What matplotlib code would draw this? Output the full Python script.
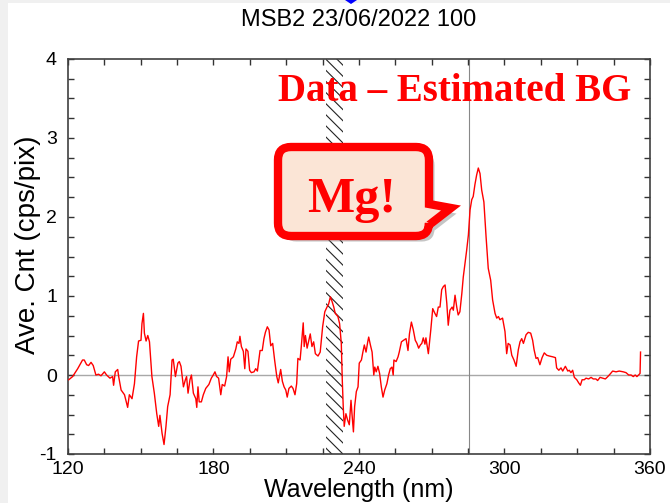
import matplotlib
matplotlib.use('Agg')
import matplotlib.pyplot as plt
import matplotlib.patheffects as pe
from matplotlib.patches import Rectangle, PathPatch, Polygon
from matplotlib.path import Path
from matplotlib.ticker import MultipleLocator

# spectrum (nm, cps/pix)
wavelength = [
    120.3, 121.9, 124.0, 126.0, 126.7, 127.7, 128.5, 129.5, 130.4, 131.5,
    132.6, 133.6, 135.0, 135.9, 137.3, 138.4, 138.8, 139.5, 140.5, 140.9,
    141.9, 143.3, 144.6, 145.3, 146.4, 147.4, 148.3, 149.1, 150.1, 150.5,
    151.1, 151.5, 152.2, 152.9, 153.6, 154.6, 155.6, 156.6, 157.4, 157.9,
    158.8, 159.6, 160.4, 161.1, 162.1, 162.9, 163.4, 164.3, 165.3, 165.9,
    166.6, 167.6, 168.4, 168.9, 169.5, 170.3, 170.9, 171.7, 172.7, 173.1,
    173.6, 174.1, 175.0, 175.8, 176.8, 178.1, 179.1, 179.9, 180.6, 181.3,
    182.1, 183.0, 183.6, 184.6, 185.4, 186.0, 186.5, 187.1, 188.2, 189.2,
    189.8, 190.5, 190.9, 191.5, 192.3, 192.9, 193.4, 194.2, 194.9, 195.6,
    196.7, 197.4, 198.1, 199.2, 200.1, 200.8, 201.4, 202.2, 202.9, 203.6,
    204.4, 205.2, 206.1, 206.7, 207.7, 208.4, 209.1, 209.8, 210.4, 211.1,
    212.1, 212.8, 213.6, 214.3, 214.8, 215.7, 216.2, 217.0, 217.4, 217.9,
    218.6, 219.3, 219.9, 220.6, 221.3, 222.0, 223.1, 224.0, 225.0, 225.9,
    226.8, 227.5, 228.2, 228.9, 229.6, 230.2, 231.3, 232.0, 232.7, 233.1,
    233.5, 233.9, 234.6, 235.3, 236.0, 236.7, 237.1, 237.7, 238.2, 238.9,
    239.6, 240.1, 241.0, 241.6, 242.2, 242.9, 243.6, 244.0, 244.7, 245.4,
    246.1, 246.5, 247.1, 247.8, 248.5, 249.2, 249.9, 250.6, 251.5, 252.2,
    252.9, 253.6, 254.1, 254.4, 255.3, 256.1, 256.6, 257.5, 258.4, 259.4,
    260.2, 260.8, 261.6, 262.4, 263.2, 263.9, 264.6, 265.3, 265.9, 266.5,
    267.2, 267.6, 268.6, 269.6, 270.4, 271.3, 272.0, 272.7, 273.4, 274.1,
    274.8, 275.5, 276.2, 276.8, 277.5, 278.4, 278.9, 279.6, 280.3, 280.9,
    281.6, 282.4, 283.0, 283.7, 284.4, 285.1, 285.8, 286.5, 287.1, 287.8,
    288.5, 289.2, 289.9, 290.6, 291.5, 292.4, 293.3, 294.3, 295.1, 296.1,
    296.8, 297.5, 298.1, 299.2, 300.2, 300.9, 301.5, 302.3, 303.0, 303.9,
    304.8, 305.7, 306.4, 307.1, 307.8, 308.9, 309.8, 310.8, 311.6, 312.2,
    313.0, 313.7, 314.6, 315.5, 316.4, 317.4, 318.5, 319.9, 321.0, 321.5,
    322.4, 323.3, 324.0, 325.1, 326.1, 326.7, 327.4, 328.1, 328.8, 329.8,
    330.6, 331.3, 332.0, 332.9, 333.6, 334.7, 335.7, 336.6, 337.7, 338.4,
    339.4, 340.5, 341.6, 342.6, 343.5, 344.6, 346.0, 347.3, 349.0, 350.1,
    351.2, 352.2, 353.1, 353.9, 354.6, 355.3, 355.9, 356.1,
]
counts = [
    -0.06, -0.02, 0.08, 0.19, 0.19, 0.13, 0.12, 0.16, 0.12, 0.00,
    0.01, -0.01, 0.04, 0.00, -0.04, -0.02, -0.13, 0.04, 0.07, -0.02,
    -0.19, -0.25, -0.41, -0.25, -0.30, -0.11, 0.23, 0.43, 0.44, 0.65,
    0.78, 0.53, 0.43, 0.50, 0.42, -0.02, -0.23, -0.49, -0.65, -0.51,
    -0.74, -0.88, -0.65, -0.40, -0.25, 0.19, 0.20, -0.02, 0.15, 0.17,
    0.11, -0.15, -0.06, -0.02, -0.23, -0.06, 0.00, -0.23, -0.30, -0.41,
    -0.15, -0.34, -0.34, -0.25, -0.17, -0.12, -0.04, 0.00, 0.04, -0.02,
    -0.04, -0.25, -0.12, -0.14, -0.02, 0.23, 0.04, 0.20, 0.23, 0.33,
    0.42, 0.40, 0.49, 0.36, 0.30, 0.08, 0.33, 0.30, 0.06, 0.03,
    0.04, 0.08, 0.05, 0.31, 0.31, 0.46, 0.54, 0.61, 0.57, 0.37,
    0.40, 0.19, -0.02, -0.10, 0.07, -0.08, -0.15, -0.19, -0.28, -0.17,
    -0.14, -0.17, -0.25, -0.11, 0.21, 0.19, 0.36, 0.66, 0.36, 0.50,
    0.34, 0.44, 0.52, 0.36, 0.42, 0.27, 0.24, 0.29, 0.61, 0.80,
    0.86, 0.90, 0.99, 0.93, 0.86, 0.78, 0.74, 0.65, 0.40, -0.06,
    -0.40, -0.65, -0.49, -0.57, -0.63, -0.32, -0.49, -0.72, -0.40, -0.21,
    -0.15, 0.15, 0.19, 0.29, 0.38, 0.29, 0.42, 0.48, 0.38, 0.29,
    0.00, 0.10, 0.04, 0.11, 0.02, -0.15, -0.28, -0.19, -0.11, 0.00,
    0.08, 0.10, 0.00, 0.19, 0.17, 0.23, 0.29, 0.42, 0.44, 0.46,
    0.31, 0.52, 0.67, 0.57, 0.44, 0.40, 0.34, 0.38, 0.40, 0.47,
    0.39, 0.47, 0.27, 0.57, 0.84, 0.78, 0.74, 0.86, 0.86, 1.08,
    1.12, 1.14, 0.91, 0.63, 0.82, 0.86, 0.82, 1.01, 0.86, 0.76,
    0.80, 1.03, 1.24, 1.41, 1.58, 1.77, 2.09, 2.22, 2.26, 2.41,
    2.53, 2.62, 2.55, 2.34, 2.19, 1.75, 1.35, 1.20, 0.95, 0.78,
    0.72, 0.74, 0.70, 0.72, 0.55, 0.27, 0.40, 0.38, 0.25, 0.19,
    0.11, 0.32, 0.42, 0.46, 0.40, 0.51, 0.54, 0.53, 0.44, 0.32,
    0.21, 0.22, 0.13, 0.22, 0.28, 0.25, 0.24, 0.23, 0.22, 0.09,
    0.06, 0.09, 0.05, 0.11, 0.05, 0.06, 0.03, 0.06, -0.03, -0.06,
    -0.10, -0.13, -0.06, -0.06, -0.04, -0.05, -0.03, -0.05, -0.05, -0.07,
    -0.03, -0.04, -0.05, -0.02, 0.01, 0.05, 0.04, 0.05, 0.04, 0.03,
    0.00, 0.00, -0.02, 0.00, -0.02, 0.00, 0.02, 0.29,
]

mg_line = 285.2
excluded = (226.5, 233.5)

W, H = 670, 503
plt.rcParams['font.family'] = ['Liberation Sans', 'DejaVu Sans']
plt.rcParams['hatch.linewidth'] = 0.8
plt.rcParams['axes.unicode_minus'] = False

fig = plt.figure(figsize=(W / 100, H / 100), dpi=100)
fig.patch.set_facecolor('#f0f0f0')
fig.add_artist(Rectangle((8 / W, 0), 1, 1 - 3 / H, transform=fig.transFigure,
                         facecolor='white', edgecolor='none', zorder=-10))

ax = fig.add_axes([68 / W, 1 - 454 / H, 582 / W, 395 / H])
ax.axhline(0, color='#a8a8a8', lw=1, zorder=1)
ax.axvline(mg_line, color='#888888', lw=0.8, zorder=1)
ax.axvspan(*excluded, facecolor='none', edgecolor='#222222', hatch='\\\\\\',
           lw=0, zorder=2)
ax.plot(wavelength, counts, color='red', lw=1, zorder=3)

ax.set_xlim(120, 360)
ax.set_ylim(-1, 4)
ax.xaxis.set_major_locator(MultipleLocator(60))
ax.xaxis.set_minor_locator(MultipleLocator(15))
ax.yaxis.set_major_locator(MultipleLocator(1))
ax.yaxis.set_minor_locator(MultipleLocator(0.25))
ax.tick_params(which='both', direction='in', top=True, right=True,
               color='#333333', width=1, length=4)
ax.tick_params(which='major', labelsize=14)
ax.tick_params(axis='x', which='major', pad=5)
ax.tick_params(axis='y', which='major', pad=8)
for s in ax.spines.values():
    s.set_color('#404040')
    s.set_linewidth(1.2)

ax.set_xlabel('Wavelength (nm)', fontsize=18, labelpad=0)
ax.set_ylabel('Ave. Cnt (cps/pix)', fontsize=20)
ax.yaxis.set_label_coords(-0.046, 0.53)
fig.text(359 / W, 1 - 20 / H, 'MSB2 23/06/2022 100', fontsize=17,
         ha='center', va='center')

fig.text(455 / W, 1 - 101 / H, 'Data \u2013 Estimated BG', fontsize=28,
         family='Liberation Serif', weight='bold', color='red',
         ha='center', va='baseline', zorder=6)

# overlay in pixel units for the callout
ov = fig.add_axes([0, 0, 1, 1], zorder=5)
ov.set_xlim(0, W)
ov.set_ylim(H, 0)
ov.axis('off')
ov.patch.set_alpha(0)

# small blue marker cut off at the top edge
ov.add_patch(Polygon([(345, 0), (357, 0), (351, 4)], closed=True,
                     facecolor='blue', edgecolor='none'))

L, R, T, B, r = 278, 429, 147, 236, 13
verts = [
    (L + r, T), (R - r, T), (R, T), (R, T + r),
    (R, 204), (451, 208), (R, 225),
    (R, B - r), (R, B), (R - r, B),
    (L + r, B), (L, B), (L, B - r),
    (L, T + r), (L, T), (L + r, T),
    (L + r, T),
]
codes = [
    Path.MOVETO, Path.LINETO, Path.CURVE3, Path.CURVE3,
    Path.LINETO, Path.LINETO, Path.LINETO,
    Path.LINETO, Path.CURVE3, Path.CURVE3,
    Path.LINETO, Path.CURVE3, Path.CURVE3,
    Path.LINETO, Path.CURVE3, Path.CURVE3,
    Path.CLOSEPOLY,
]
callout = PathPatch(Path(verts, codes), facecolor='#fbe5d6', edgecolor='red',
                    lw=6, joinstyle='miter')
callout.set_path_effects([
    pe.SimplePatchShadow(offset=(4, -4), shadow_rgbFace='#808080', alpha=0.45),
    pe.Normal(),
])
ov.add_patch(callout)
ov.text(352, 212, 'Mg!', fontsize=36, family='Liberation Serif',
        weight='bold', color='red', ha='center', va='baseline')

fig.savefig('out.png', dpi=100, facecolor=fig.get_facecolor())
